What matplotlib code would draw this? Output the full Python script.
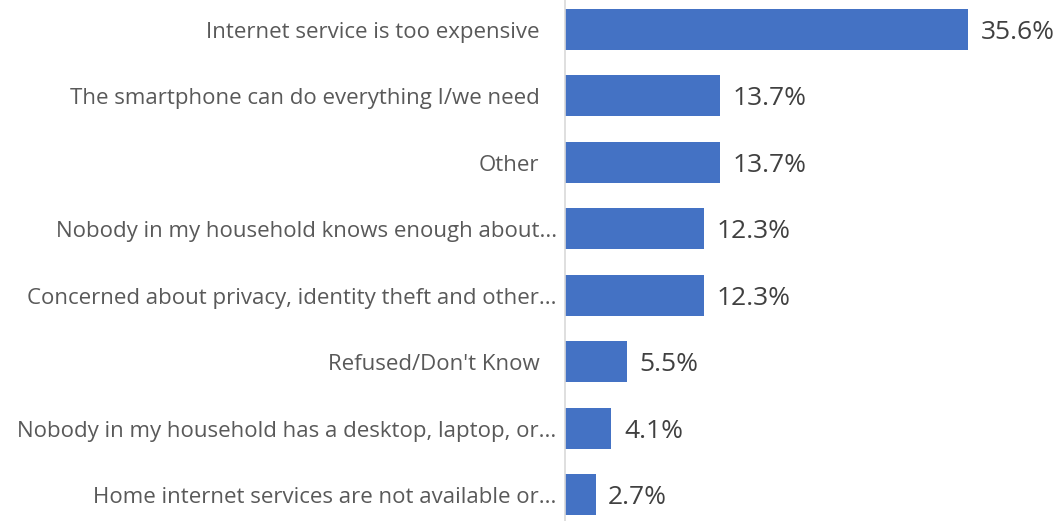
import matplotlib
matplotlib.use("Agg")
import matplotlib.pyplot as plt

plt.rcParams['font.family'] = ['Open Sans', 'DejaVu Sans']

categories = ["Internet service is too expensive",
              "The smartphone can do everything I/we need",
              "Other",
              "Nobody in my household knows enough about...",
              "Concerned about privacy, identity theft and other...",
              "Refused/Don't Know",
              "Nobody in my household has a desktop, laptop, or...",
              "Home internet services are not available or..."]
values = [35.6, 13.7, 13.7, 12.3, 12.3, 5.5, 4.1, 2.7]
value_labels = ["35.6%", "13.7%", "13.7%", "12.3%", "12.3%", "5.5%", "4.1%", "2.7%"]

W, H = 1061, 521
fig = plt.figure(figsize=(W / 100, H / 100), dpi=100)
ax = fig.add_axes([565 / W, (H - 528) / H, (W - 565) / W, 532 / H])

ypos = list(range(len(categories)))
ax.barh(ypos, values, height=0.62, color="#4472C4")
ax.set_ylim(len(categories) - 0.5, -0.5)
ax.set_xlim(0, (W - 565) / 11.32)
ax.set_yticks([])
ax.set_xticks([])

# category labels: truncated ones sit closer to the axis (no trailing space)
for y, cat in zip(ypos, categories):
    off = -6 if cat.endswith("...") else -18.5
    ax.annotate(cat, (0, y), xytext=(off, -2), textcoords="offset points",
                va="center", ha="right", fontsize=16, color="#595959",
                annotation_clip=False)

for y, v, lab in zip(ypos, values, value_labels):
    ax.annotate(lab, (v, y), xytext=(9, -2), textcoords="offset points",
                va="center", ha="left", fontsize=19, color="#404040")

for s in ["top", "right", "bottom"]:
    ax.spines[s].set_visible(False)
ax.spines["left"].set_color("#D9D9D9")
ax.spines["left"].set_linewidth(1.2)

fig.savefig("out.png", dpi=100)
